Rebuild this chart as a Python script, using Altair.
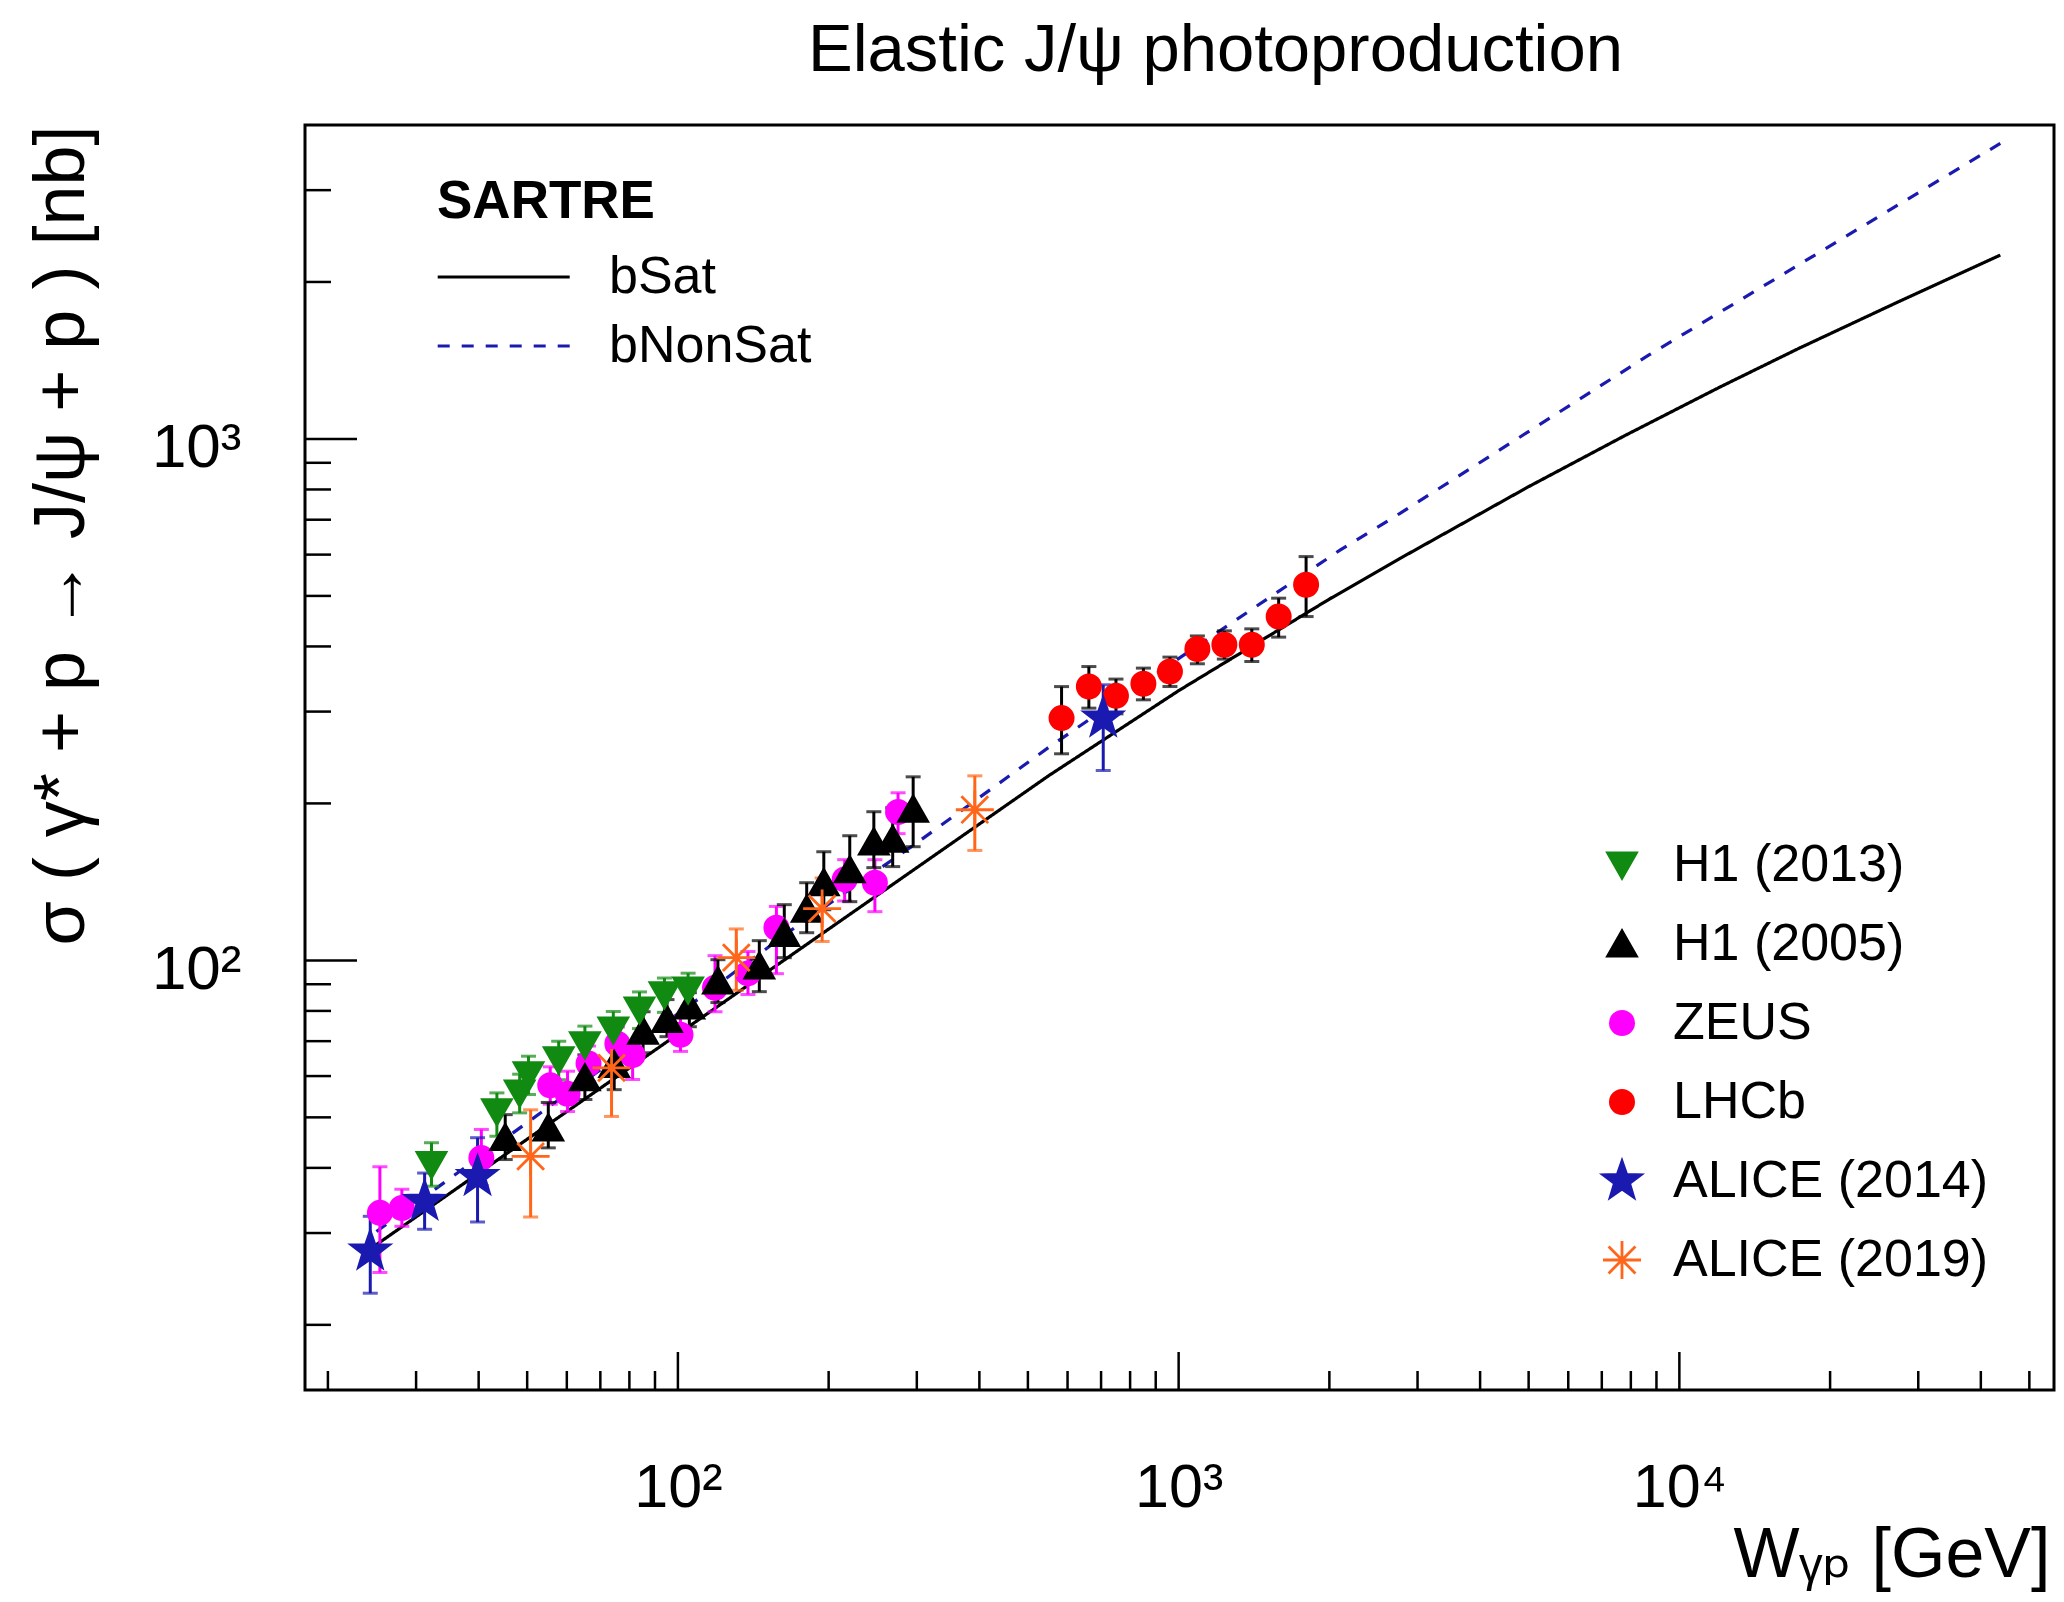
import math
import altair as alt
import pandas as pd

FONT = "Liberation Sans, DejaVu Sans, sans-serif"
PW, PH = 1749, 1265
X_DOMAIN = [18, 56000]
Y_DOMAIN = [15, 4000]

# ---------------- SARTRE curves ----------------
bsat_w = [25, 50, 100, 200, 300, 550, 1000, 2000, 2768, 5000, 7755, 12000, 17280, 27000, 43750]
bsat_s = [28.5, 45.4, 72.2, 114.8, 150.6, 226, 329, 493, 590, 810, 1013, 1255, 1490, 1821, 2252]
bnonsat_w = [25, 107.2, 172.5, 299.6, 553.4, 990.9, 2100, 2768, 8697, 43750]
bnonsat_s = [30.2, 82.9, 116.2, 167.9, 257.2, 377, 612, 720, 1449, 3688]

# ---------------- measurements (W, sigma, sigma_low, sigma_high) ----------------
h1_2013_w = [32.2, 43.5, 48.3, 50.3, 57.8, 65.2, 74.3, 83.8, 94.0, 104.8]
h1_2013_s = [40.6, 51.3, 55.7, 60.4, 64.5, 68.9, 73.6, 80.4, 86.0, 87.8]
h1_2013_lo = [36.9, 46.0, 51.0, 55.3, 59.0, 63.0, 67.5, 74.0, 79.5, 81.5]
h1_2013_hi = [44.7, 55.7, 60.5, 65.5, 70.0, 74.8, 79.8, 87.0, 92.5, 94.5]

h1_2005_w = [45.2, 55.1, 65.2, 74.6, 85.2, 95.1, 105.4, 120.2, 145.4, 163.1, 180.8, 195.6, 220.4, 246.2, 268.5, 295.0]
h1_2005_s = [45.7, 47.7, 59.5, 63.1, 73.1, 77.0, 81.7, 91.3, 97.5, 112.6, 125.3, 140.9, 149.1, 168.6, 170.6, 194.8]
h1_2005_lo = [41.5, 43.7, 54.1, 56.5, 66.5, 71.4, 74.6, 83.0, 87.1, 101.2, 113.0, 125.1, 129.6, 150.6, 151.3, 165.2]
h1_2005_hi = [50.6, 53.4, 65.9, 68.9, 79.7, 84.1, 86.7, 100.3, 109.1, 127.9, 140.9, 161.6, 173.4, 192.8, 196.2, 224.9]

zeus_w = [25.4, 28.1, 40.5, 55.6, 60.2, 66.3, 75.7, 81.2, 101.2, 118.6, 138.0, 157.3, 215.3, 247.4, 275.2]
zeus_s = [32.8, 33.5, 41.8, 57.6, 55.5, 63.4, 69.2, 65.8, 72.0, 88.6, 94.4, 115.5, 143.0, 140.9, 192.5]
zeus_lo = [25.2, 30.9, 37.0, 53.0, 51.3, 58.5, 64.0, 59.1, 66.9, 79.7, 86.0, 94.3, 130.0, 124.0, 175.0]
zeus_hi = [40.2, 36.4, 47.4, 62.5, 61.3, 68.5, 74.5, 69.6, 78.1, 102.1, 104.0, 126.9, 156.0, 156.0, 209.6]

lhcb_w = [583.7, 661.8, 749.6, 850.4, 960.8, 1090, 1234, 1400, 1584, 1797]
lhcb_s = [291.5, 335.1, 321.6, 339.2, 358.1, 395.4, 402.9, 402.9, 456.5, 525.1]
lhcb_lo = [249, 304.6, 297, 316, 335.1, 370.5, 378.3, 374.3, 416.8, 456.4]
lhcb_hi = [335, 366, 346.3, 363.5, 381.6, 419, 428.5, 432.3, 495, 594.8]

alice14_w = [24.3, 31.2, 39.8, 707]
alice14_s = [27.7, 34.5, 38.5, 291.5]
alice14_lo = [23.0, 30.5, 31.5, 231.3]
alice14_hi = [32.3, 39.1, 45.7, 337.7]

alice19_w = [50.8, 73.7, 130.8, 194.1, 391.7]
alice19_s = [42.1, 62.2, 101.2, 125.7, 194.5]
alice19_lo = [32.2, 50.2, 87.6, 108.7, 162.5]
alice19_hi = [51.7, 73.9, 114.9, 143.9, 225.9]

# ---------------- axis ticks ----------------
x_major = [100, 1000, 10000]
x_minor = [20, 30, 40, 50, 60, 70, 80, 90, 200, 300, 400, 500, 600, 700, 800, 900,
           2000, 3000, 4000, 5000, 6000, 7000, 8000, 9000, 20000, 30000, 40000, 50000]
y_major = [100, 1000]
y_minor = [20, 30, 40, 50, 60, 70, 80, 90, 200, 300, 400, 500, 600, 700, 800, 900, 2000, 3000]

EXPS = ["H1 (2013)", "H1 (2005)", "ZEUS", "LHCb", "ALICE (2014)", "ALICE (2019)"]
MARKER_COLORS = ["#118a11", "#000000", "#ff00ff", "#ff0000", "#1a1ab0", "#ff6619"]
ERROR_COLORS = ["#118a11", "#000000", "#ff00ff", "#000000", "#1a1ab0", "#ff6619"]


def star_path(ro=1.0, ri=0.4):
    pts = []
    for k in range(10):
        r = ro if k % 2 == 0 else ri
        a = math.radians(-90 + 36 * k)
        pts.append(f"{r * math.cos(a):.3f},{r * math.sin(a):.3f}")
    return "M" + "L".join(pts) + "Z"


CIRCLE = "M0.58,0A0.58,0.58,0,1,1,-0.58,0A0.58,0.58,0,1,1,0.58,0Z"
SHAPES = [
    "M-0.72,-0.6L0.72,-0.6L0,0.66Z",
    "M-0.72,0.6L0.72,0.6L0,-0.66Z",
    CIRCLE,
    CIRCLE,
    star_path(1.0, 0.4),
    "M-0.95,0L0.95,0M0,-0.95L0,0.95M-0.67,-0.67L0.67,0.67M-0.67,0.67L0.67,-0.67",
]

datasets = {
    "H1 (2013)": (h1_2013_w, h1_2013_s, h1_2013_lo, h1_2013_hi),
    "H1 (2005)": (h1_2005_w, h1_2005_s, h1_2005_lo, h1_2005_hi),
    "ZEUS": (zeus_w, zeus_s, zeus_lo, zeus_hi),
    "LHCb": (lhcb_w, lhcb_s, lhcb_lo, lhcb_hi),
    "ALICE (2014)": (alice14_w, alice14_s, alice14_lo, alice14_hi),
    "ALICE (2019)": (alice19_w, alice19_s, alice19_lo, alice19_hi),
}
DRAW_ORDER = ["ZEUS", "H1 (2005)", "H1 (2013)", "LHCb", "ALICE (2014)", "ALICE (2019)"]

xs = alt.Scale(type="log", domain=X_DOMAIN, nice=False, zero=False)
ys = alt.Scale(type="log", domain=Y_DOMAIN, nice=False, zero=False)

sup = "datum.value == 100 ? '10\u00b2' : datum.value == 1000 ? '10\u00b3' : '10\u2074'"

x_axis = alt.Axis(values=x_major, labelExpr=sup, ticks=False, tickSize=0, domain=False, grid=False,
                  labelFont=FONT, labelFontSize=61, labelColor="black", labelBaseline="alphabetic",
                  labelPadding=116, labelFlush=False, labelOverlap=False,
                  title="W\u1d67\u209a [GeV]", titleFont=FONT, titleFontSize=70, titleFontWeight="normal",
                  titleColor="black", titleX=1745, titleY=186, titleAlign="right", titleBaseline="alphabetic",
                  titleAngle=0, titleLimit=3000)
y_axis = alt.Axis(values=y_major, labelExpr=sup, ticks=False, tickSize=0, domain=False, grid=False,
                  labelFont=FONT, labelFontSize=62, labelColor="black", labelBaseline="alphabetic",
                  labelPadding=64, labelOffset=28, labelFlush=False, labelOverlap=False,
                  title="\u03c3 ( \u03b3* + p \u2192 J/\u03c8 + p ) [nb]", titleFont=FONT, titleFontSize=72,
                  titleFontWeight="normal", titleColor="black", titleX=-222, titleY=0, titleAlign="right",
                  titleBaseline="alphabetic", titleAngle=270, titleLimit=3000)

# curves
curve_rows = []
for i, (w, s) in enumerate(zip(bsat_w, bsat_s)):
    curve_rows.append({"W": w, "sigma": s, "model": "bSat", "i": i})
for i, (w, s) in enumerate(zip(bnonsat_w, bnonsat_s)):
    curve_rows.append({"W": w, "sigma": s, "model": "bNonSat", "i": i})
curves_df = pd.DataFrame(curve_rows)

# line legend symbol: a horizontal stroke, 12 units long at 11 px per unit
line_legend = dict(title="SARTRE", orient="none", legendX=132, legendY=51, padding=0,
                   titleFont=FONT, titleFontSize=53, titleFontWeight="bold", titleColor="black",
                   titlePadding=22, titleLimit=1000, labelFont=FONT, labelFontSize=52, labelColor="black",
                   labelOffset=120, labelLimit=800, symbolType="M-2.3,0L9.7,0", symbolSize=484,
                   symbolStrokeWidth=3, rowPadding=17)

curves = alt.Chart(curves_df).mark_line(strokeWidth=3.2).encode(
    x=alt.X("W:Q", scale=xs, axis=x_axis),
    y=alt.Y("sigma:Q", scale=ys, axis=y_axis),
    color=alt.Color("model:N", scale=alt.Scale(domain=["bSat", "bNonSat"], range=["#000000", "#1a1ab0"]),
                    legend=alt.Legend(**line_legend)),
    strokeDash=alt.StrokeDash("model:N", scale=alt.Scale(domain=["bSat", "bNonSat"], range=[[1, 0], [12, 12]]),
                              legend=alt.Legend(**line_legend)),
    order="i:Q",
)

layers = [curves]

# error bars (one layer group per experiment, colour fixed)
for name in DRAW_ORDER:
    w, s, lo, hi = datasets[name]
    col = ERROR_COLORS[EXPS.index(name)]
    edf = pd.DataFrame({"W": w, "lo": lo, "hi": hi})
    base = alt.Chart(edf)
    layers.append(base.mark_rule(color=col, strokeWidth=3).encode(
        x=alt.X("W:Q", scale=xs), y=alt.Y("lo:Q", scale=ys), y2="hi:Q"))
    layers.append(base.mark_tick(color=col, orient="horizontal", size=15, thickness=3).encode(
        x=alt.X("W:Q", scale=xs), y=alt.Y("lo:Q", scale=ys)))
    layers.append(base.mark_tick(color=col, orient="horizontal", size=15, thickness=3).encode(
        x=alt.X("W:Q", scale=xs), y=alt.Y("hi:Q", scale=ys)))

# markers
pt_rows = []
for name in DRAW_ORDER:
    w, s, lo, hi = datasets[name]
    for a, b in zip(w, s):
        pt_rows.append({"W": a, "sigma": b, "exp": name})
pts_df = pd.DataFrame(pt_rows)

pt_legend = dict(title=None, orient="none", legendX=1291, legendY=714, padding=0,
                 labelFont=FONT, labelFontSize=52, labelColor="black", labelOffset=25,
                 labelLimit=800, symbolSize=1600, symbolStrokeWidth=2.8, rowPadding=27)

points = alt.Chart(pts_df).mark_point(filled=True, size=1600, strokeWidth=2.8, opacity=1).encode(
    x=alt.X("W:Q", scale=xs),
    y=alt.Y("sigma:Q", scale=ys),
    fill=alt.Fill("exp:N", scale=alt.Scale(domain=EXPS, range=MARKER_COLORS), legend=alt.Legend(**pt_legend)),
    stroke=alt.Stroke("exp:N", scale=alt.Scale(domain=EXPS, range=MARKER_COLORS), legend=alt.Legend(**pt_legend)),
    shape=alt.Shape("exp:N", scale=alt.Scale(domain=EXPS, range=SHAPES), legend=alt.Legend(**pt_legend)),
)
layers.append(points)

# inward ticks
for vals, length in [(x_major, 38), (x_minor, 19)]:
    layers.append(alt.Chart(pd.DataFrame({"v": vals})).mark_rule(color="black", strokeWidth=2.5).encode(
        x=alt.X("v:Q", scale=xs), y=alt.value(PH), y2=alt.value(PH - length)))
for vals, length in [(y_major, 52), (y_minor, 26)]:
    layers.append(alt.Chart(pd.DataFrame({"v": vals})).mark_rule(color="black", strokeWidth=2.5).encode(
        y=alt.Y("v:Q", scale=ys), x=alt.value(0), x2=alt.value(length)))

chart = alt.layer(*layers).properties(
    width=PW, height=PH,
    title=alt.TitleParams("Elastic J/\u03c8 photoproduction", font=FONT, fontSize=67, fontWeight="normal",
                          color="black", anchor="middle", frame="group", dx=36, dy=70, offset=57,
                          baseline="alphabetic"),
    autosize=alt.AutoSizeParams(type="none"),
    padding={"left": 297, "top": 117, "right": 2, "bottom": 212},
    background="white",
).configure_view(stroke="black", strokeWidth=3, fill="white")

chart.save("out.html", embed_options={"renderer": "svg", "actions": False})
